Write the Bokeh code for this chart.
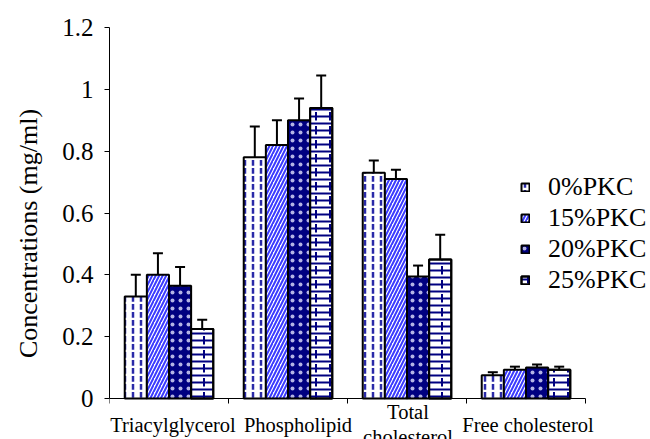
from bokeh.plotting import figure
from bokeh.models import (ColumnDataSource, FixedTicker, Range1d, Whisker, TeeHead,
                          Legend, LegendItem)
from bokeh.core.properties import value
from bokeh.embed import file_html
from bokeh.resources import INLINE

categories = ["Triacylglycerol", "Phospholipid", "Total\ncholesterol", "Free cholesterol"]
series = ["0%PKC", "15%PKC", "20%PKC", "25%PKC"]
vals_0 = [0.33, 0.78, 0.73, 0.075]
vals_15 = [0.40, 0.82, 0.71, 0.093]
vals_20 = [0.365, 0.90, 0.395, 0.10]
vals_25 = [0.225, 0.94, 0.45, 0.093]
err_0 = [0.07, 0.10, 0.04, 0.01]
err_15 = [0.07, 0.08, 0.03, 0.01]
err_20 = [0.06, 0.07, 0.035, 0.01]
err_25 = [0.03, 0.105, 0.08, 0.01]
y_ticks = [0, 0.2, 0.4, 0.6, 0.8, 1.0, 1.2]
y_tick_labels = ["0", "0.2", "0.4", "0.6", "0.8", "1", "1.2"]

FONT = "Liberation Serif"
W, H = 650, 439
LEFT, TOP = 109, 27
AXIS_Y = 398            # pixel row of the value 0
CAT_PX = 119            # pixel width of one category
Y_MAX = 1.2
px_per_unit = (AXIS_Y - TOP) / Y_MAX
y_start = -(H - AXIS_Y) / px_per_unit
x_end = (W - LEFT) / CAT_PX
ncat = len(categories)

p = figure(width=W, height=H, output_backend="svg", toolbar_location=None,
           x_range=Range1d(0, x_end), y_range=Range1d(y_start, Y_MAX),
           x_axis_location=None,
           min_border_left=LEFT, min_border_right=0, min_border_top=TOP, min_border_bottom=0)
p.outline_line_color = None
p.grid.visible = False
p.background_fill_color = "white"
p.border_fill_color = "white"

# y axis
p.yaxis.ticker = FixedTicker(ticks=y_ticks)
p.yaxis.bounds = (0, Y_MAX)
p.yaxis.major_label_overrides = {t: l for t, l in zip(y_ticks, y_tick_labels)}
p.yaxis.major_label_text_font = FONT
p.yaxis.major_label_text_font_size = "25px"
p.yaxis.major_label_text_color = "black"
p.yaxis.major_tick_in = 0
p.yaxis.major_tick_out = 5
p.yaxis.minor_tick_line_color = None
p.yaxis.axis_line_color = "black"
p.yaxis.major_tick_line_color = "black"
p.yaxis.major_label_standoff = 11
p.yaxis.axis_label = "Concentrations (mg/ml)"
p.yaxis.axis_label_text_font = FONT
p.yaxis.axis_label_text_font_size = "26px"
p.yaxis.axis_label_text_font_style = "normal"
p.yaxis.axis_label_text_color = "black"
p.yaxis.axis_label_standoff = 16

# category axis drawn through the data scales
bounds = list(range(ncat + 1))
centers = [i + 0.5 for i in range(ncat)]
tick_len = 5 / px_per_unit
p.segment(x0=[0], y0=[0], x1=[ncat], y1=[0], line_color="black", line_width=1)
p.segment(x0=bounds, y0=[0] * len(bounds), x1=bounds, y1=[-tick_len] * len(bounds),
          line_color="black", line_width=1)
label_y = -26 / px_per_unit
label_src = ColumnDataSource(dict(x=centers, y=[label_y] * ncat, text=categories,
                                  dx=[4, 10, 1, 2]))
p.text(x="x", y="y", text="text", x_offset="dx", source=label_src, text_align="center",
       text_baseline="middle", text_font=value(FONT), text_font_size="20.5px",
       text_color="black", text_line_height=1.1)

offsets = [-0.279, -0.093, 0.093, 0.279]
bw = 0.186
all_vals = [vals_0, vals_15, vals_20, vals_25]
all_errs = [err_0, err_15, err_20, err_25]

styles = [
    [dict(fill_color="white", hatch_pattern="vertical_dash", hatch_color="#2a2aa8",
          hatch_scale=8, hatch_weight=2.5)],
    [dict(fill_color="white", hatch_pattern="right_diagonal_line", hatch_color="#3a3aff",
          hatch_scale=7, hatch_weight=2)],
    [dict(fill_color="#000080", hatch_pattern="dot", hatch_color="#c8c8ee",
          hatch_scale=8, hatch_alpha=0.9)],
    [dict(fill_color="white", hatch_pattern="horizontal_line", hatch_color="#000080",
          hatch_scale=7, hatch_weight=2),
     dict(fill_color=None, hatch_pattern="vertical_dash", hatch_color="#000080",
          hatch_scale=14, hatch_weight=2)],
]

legend_renderers = []
for k in range(4):
    xs = [c + offsets[k] for c in centers]
    src = ColumnDataSource(dict(x=xs, top=all_vals[k],
                                upper=[v + e for v, e in zip(all_vals[k], all_errs[k])],
                                lower=[v - e for v, e in zip(all_vals[k], all_errs[k])]))
    rs = []
    for st in styles[k]:
        rs.append(p.vbar(x="x", top="top", width=bw, bottom=0, source=src,
                         line_color="black", line_width=2, **st))
    legend_renderers.append(rs)
    w = Whisker(source=src, base="x", upper="upper", lower="lower",
                line_color="black", line_width=2,
                upper_head=TeeHead(size=10, line_color="black", line_width=2),
                lower_head=TeeHead(size=10, line_color="black", line_width=2))
    p.add_layout(w)

legend = Legend(items=[LegendItem(label=series[k], renderers=legend_renderers[k])
                       for k in range(4)],
                location=(411, 144), orientation="vertical")
legend.label_text_font = FONT
legend.label_text_font_size = "26px"
legend.label_text_color = "black"
legend.glyph_width = 10
legend.glyph_height = 10
legend.spacing = 1
legend.padding = 0
legend.margin = 0
legend.label_standoff = 18
legend.border_line_color = None
legend.background_fill_alpha = 0
p.add_layout(legend, "center")

open("out.html", "w").write(file_html(p, INLINE))
